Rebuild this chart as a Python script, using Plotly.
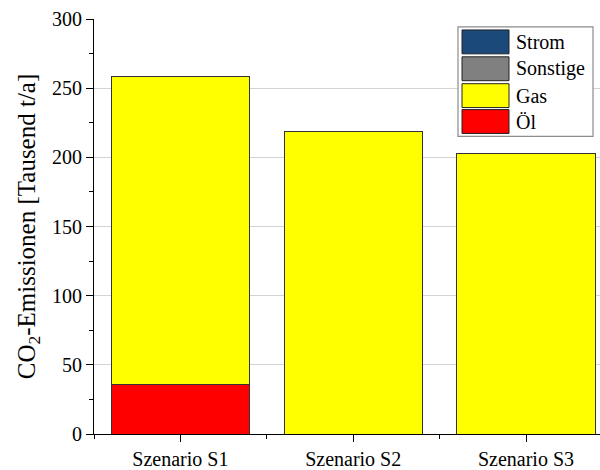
import plotly.graph_objects as go

# Scenario categories and emission components (thousand t CO2 per year)
scenarios = ["Szenario S1", "Szenario S2", "Szenario S3"]
oel = [35.5, 0, 0]
gas = [223, 219, 203]
sonstige = [0, 0, 0]
strom = [0, 0, 0]

series_names = ["Öl", "Gas", "Sonstige", "Strom"]
series_values = [oel, gas, sonstige, strom]
series_colors = ["#ff0000", "#ffff00", "#808080", "#1b4a7a"]

y_ticks = [0, 50, 100, 150, 200, 250, 300]

FONT = "Liberation Serif"
W, H = 600, 470
ML, MR, MT, MB = 94, 0, 19, 34

fig = go.Figure()
xpos = list(range(len(scenarios)))
for name, vals, col in zip(series_names, series_values, series_colors):
    fig.add_trace(go.Bar(
        x=xpos, y=vals, name=name, width=0.8,
        marker=dict(color=col, line=dict(color="#333333", width=1)),
        showlegend=False,
    ))

# pixel -> paper helpers for the boxed legend
pw = W - ML - MR
ph = H - MT - MB
def px(x):
    return (x - ML) / pw
def py(y):
    return (H - MB - y) / ph

shapes = [dict(type="rect", xref="paper", yref="paper",
               x0=px(458), x1=px(593), y0=py(137), y1=py(27),
               line=dict(color="#8c8c8c", width=1.2), fillcolor="white", layer="above")]
annotations = []
legend_order = ["Strom", "Sonstige", "Gas", "Öl"]
row_top = [30, 57, 84, 110]
for name, top in zip(legend_order, row_top):
    col = series_colors[series_names.index(name)]
    shapes.append(dict(type="rect", xref="paper", yref="paper",
                       x0=px(462), x1=px(509), y0=py(top + 24), y1=py(top),
                       line=dict(color="#222222", width=1), fillcolor=col, layer="above"))
    annotations.append(dict(xref="paper", yref="paper", x=px(514), y=py(top + 12),
                            text=name, showarrow=False, xanchor="left", yanchor="middle",
                            font=dict(family=FONT, size=20, color="black")))

cat_w = 172.8
x_hi = -0.5 + pw / cat_w

fig.update_layout(
    barmode="stack",
    width=W, height=H,
    margin=dict(l=ML, r=MR, t=MT, b=MB),
    paper_bgcolor="white", plot_bgcolor="white",
    font=dict(family=FONT, size=20, color="black"),
    shapes=shapes, annotations=annotations,
    xaxis=dict(
        range=[-0.5, x_hi], tickmode="array", tickvals=xpos, ticktext=scenarios,
        showline=True, linecolor="black", linewidth=1.2,
        ticks="outside", ticklen=7, tickcolor="black", tickwidth=1.2,
        showgrid=False, zeroline=False,
        minor=dict(tickmode="array", tickvals=[-0.5, 0.5, 1.5, 2.5],
                   ticks="outside", ticklen=4, tickcolor="black", tickwidth=1.2, showgrid=False),
        tickfont=dict(family=FONT, size=20, color="black"),
    ),
    yaxis=dict(
        range=[0, 300], tickmode="array", tickvals=y_ticks,
        showline=True, linecolor="black", linewidth=1.2,
        ticks="outside", ticklen=7, tickcolor="black", tickwidth=1.2,
        showgrid=True, gridcolor="#d3d3d3", gridwidth=1, zeroline=False,
        minor=dict(dtick=25, ticks="outside", ticklen=4, tickcolor="black", tickwidth=1.2, showgrid=False),
        tickfont=dict(family=FONT, size=20, color="black"),
        title=dict(text="CO<sub>2</sub>-Emissionen [Tausend t/a]",
                   font=dict(family=FONT, size=25, color="black"), standoff=9),
    ),
)

fig.write_html("out.html")
